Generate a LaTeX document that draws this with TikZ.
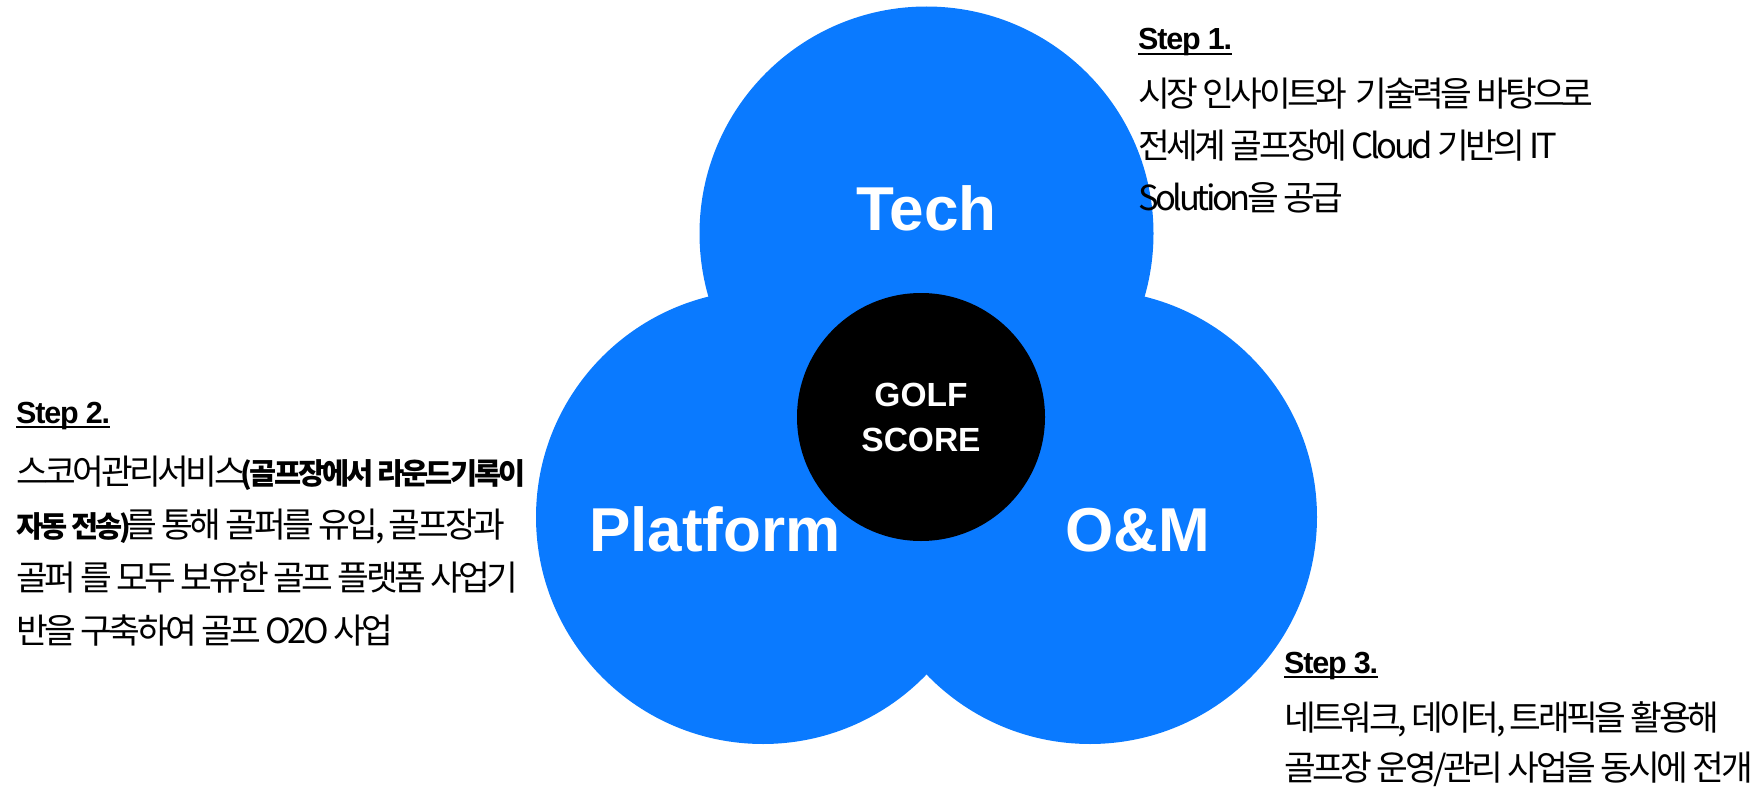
\documentclass[tikz,border=0pt]{standalone}
\usepackage{fontspec}
\setmainfont{Liberation Sans}
\newfontfamily\krfont{Noto Sans CJK KR}[LetterSpace=-10]
\newfontfamily\stepfont{Liberation Sans}[LetterSpace=-4]
\definecolor{golfblue}{HTML}{0A7AFF}
\newcommand{\boldpart}[1]{{\bfseries\fontsize{29.5}{29.5}\selectfont #1}}

\tikzset{
    petal/.style={circle, fill=golfblue, inner sep=0pt, minimum size=454pt},
    core/.style={circle, fill=black, inner sep=0pt, minimum size=248pt},
    petallbl/.style={text=white, font=\bfseries\fontsize{62}{62}\selectfont, inner sep=0pt, anchor=base},
    corelbl/.style={text=white, align=center, font=\bfseries\fontsize{33.5}{45}\selectfont, inner sep=0pt},
    steptitle/.style={font=\stepfont\bfseries\fontsize{30.5}{30.5}\selectfont, inner sep=0pt, anchor=base west},
    stepline/.style={font=\krfont\fontsize{34.5}{34.5}\selectfont, inner sep=0pt, anchor=base west},
    underl/.style={line width=2.5pt},
}

\begin{document}
\begin{tikzpicture}[x=1pt, y=-1pt]
    \useasboundingbox (0,0) rectangle (1762,789);
    % Circles %
    \node[petal] (tech) at (926.5,233.5) {};
    \node[petal] (platform) at (763,517) {};
    \node[petal] (om) at (1090,517) {};
    \node[core] (core) at (921,417) {};

    % Labels %
    \node[petallbl] (techlbl) at (926.5,230) {Tech};
    \node[petallbl] (platformlbl) at (715,551) {Platform};
    \node[petallbl] (omlbl) at (1137.5,551) {O\&M};
    \node[corelbl] (corelbl) at (core) {GOLF\\SCORE};

    % Step 1 %
    \node[steptitle] (step1) at (1138,50) {Step 1.};
    \draw[underl] ([yshift=-4pt]step1.base west) -- ([yshift=-4pt]step1.base east);
    \node[stepline] (step1a) at (1138,107) {시장 인사이트와\ \ 기술력을 바탕으로};
    \node[stepline] (step1b) at (1138,158) {전세계 골프장에 Cloud 기반의 IT};
    \node[stepline] (step1c) at (1138,210) {Solution을 공급};

    % Step 2 %
    \node[steptitle] (step2) at (16,423) {Step 2.};
    \draw[underl] ([yshift=-4pt]step2.base west) -- ([yshift=-4pt]step2.base east);
    \node[stepline] (step2a) at (16,484) {스코어관리서비스\boldpart{\kern-5pt(골프장에서 라운드기록이}};
    \node[stepline] (step2b) at (16,537) {\boldpart{자동 전송)\kern-6pt}를 통해 골퍼를 유입, 골프장과};
    \node[stepline] (step2c) at (16,590) {골퍼 를 모두 보유한 골프 플랫폼 사업기};
    \node[stepline] (step2d) at (16,643) {반을 구축하여 골프 O2O 사업};

    % Step 3 %
    \node[steptitle] (step3) at (1284,673) {Step 3.};
    \draw[underl] ([yshift=-4pt]step3.base west) -- ([yshift=-4pt]step3.base east);
    \node[stepline] (step3a) at (1284,730) {네트워크, 데이터, 트래픽을 활용해};
    \node[stepline] (step3b) at (1284,780) {골프장 운영/관리 사업을 동시에 전개};
\end{tikzpicture}
\end{document}
